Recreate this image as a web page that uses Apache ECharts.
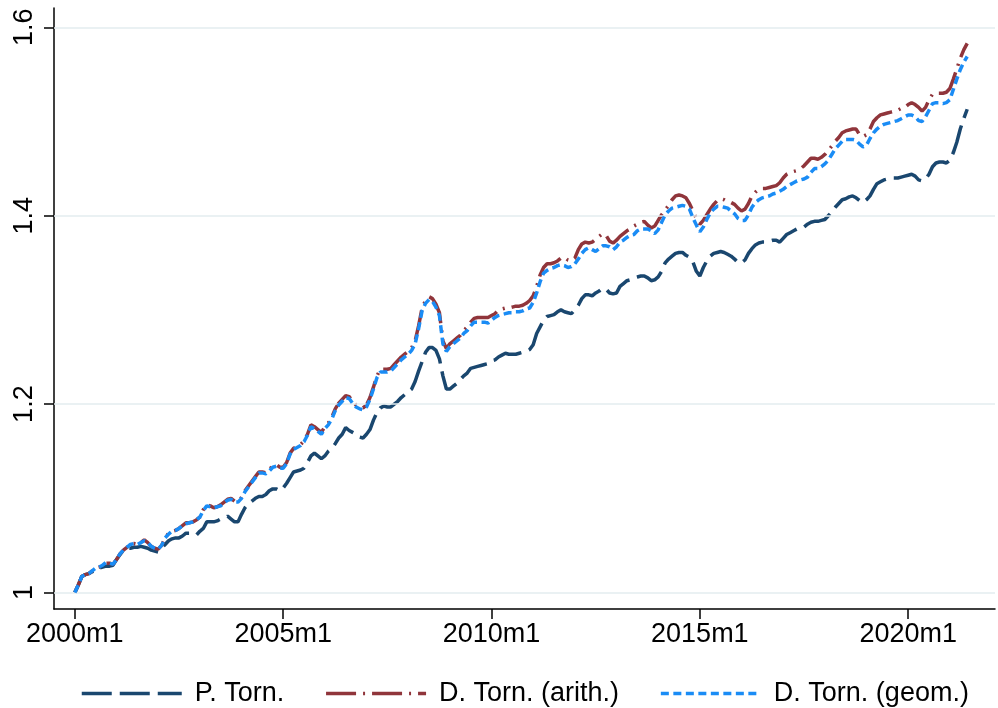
<!DOCTYPE html>
<html>
<head>
<meta charset="utf-8">
<script src="https://cdn.jsdelivr.net/npm/echarts@6/dist/echarts.min.js"></script>
<style>
html,body{margin:0;padding:0;background:#fff;}
#chart{width:998px;height:708px;}
</style>
</head>
<body>
<div id="chart"></div>
<script>
// Monthly data, 2000m1 .. 2021m6 (index 0 = 2000m1)
const xTickMonths = [0, 60, 120, 180, 240];
const xTickLabels = ['2000m1', '2005m1', '2010m1', '2015m1', '2020m1'];
const yTicks = [1, 1.2, 1.4, 1.6];
const yTickLabels = ['1', '1.2', '1.4', '1.6'];
const seriesNames = ['P. Torn.', 'D. Torn. (arith.)', 'D. Torn. (geom.)'];

const pTorn = [
1.000,1.008,1.017,1.019,1.020,1.022,1.025,1.026,1.027,1.028,
1.028,1.029,1.035,1.040,1.045,1.047,1.047,1.048,1.048,1.049,
1.048,1.047,1.045,1.044,1.043,1.047,1.051,1.055,1.057,1.058,
1.058,1.060,1.063,1.063,1.062,1.061,1.065,1.068,1.075,1.075,
1.075,1.076,1.078,1.079,1.081,1.078,1.075,1.075,1.083,1.090,
1.094,1.097,1.100,1.102,1.102,1.104,1.108,1.110,1.110,1.108,
1.111,1.116,1.122,1.128,1.129,1.130,1.132,1.138,1.145,1.148,
1.145,1.142,1.145,1.150,1.153,1.158,1.164,1.168,1.175,1.172,
1.170,1.168,1.165,1.164,1.168,1.173,1.183,1.191,1.196,1.198,
1.197,1.197,1.200,1.203,1.207,1.210,1.213,1.216,1.224,1.235,
1.245,1.255,1.260,1.260,1.257,1.248,1.230,1.216,1.216,1.219,
1.222,1.226,1.230,1.233,1.238,1.239,1.240,1.241,1.242,1.243,
1.246,1.247,1.250,1.252,1.254,1.253,1.253,1.253,1.254,1.255,
1.256,1.258,1.263,1.275,1.282,1.289,1.293,1.294,1.295,1.298,
1.300,1.298,1.297,1.296,1.300,1.305,1.312,1.316,1.316,1.315,
1.318,1.320,1.323,1.322,1.318,1.317,1.318,1.325,1.328,1.331,
1.332,1.334,1.335,1.336,1.336,1.334,1.331,1.332,1.335,1.341,
1.350,1.354,1.357,1.360,1.361,1.361,1.358,1.356,1.351,1.341,
1.336,1.345,1.352,1.357,1.360,1.361,1.362,1.361,1.359,1.357,
1.354,1.350,1.350,1.353,1.360,1.365,1.369,1.371,1.372,1.372,
1.373,1.374,1.374,1.372,1.376,1.380,1.382,1.384,1.386,1.387,
1.388,1.391,1.393,1.394,1.394,1.395,1.396,1.400,1.404,1.409,
1.413,1.417,1.418,1.420,1.421,1.419,1.416,1.414,1.417,1.421,
1.428,1.434,1.436,1.438,1.439,1.440,1.440,1.440,1.441,1.442,
1.443,1.444,1.442,1.438,1.437,1.439,1.444,1.452,1.456,1.457,
1.457,1.456,1.459,1.467,1.478,1.492,1.503,1.513
];

const dTornArith = [
1.000,1.008,1.017,1.019,1.020,1.023,1.026,1.027,1.028,1.031,
1.031,1.030,1.035,1.041,1.045,1.048,1.052,1.052,1.051,1.053,
1.056,1.053,1.049,1.047,1.046,1.050,1.058,1.063,1.065,1.066,
1.068,1.071,1.074,1.074,1.075,1.077,1.080,1.088,1.093,1.092,
1.090,1.091,1.093,1.096,1.099,1.100,1.097,1.097,1.101,1.108,
1.113,1.118,1.123,1.128,1.128,1.127,1.130,1.135,1.136,1.133,
1.133,1.138,1.148,1.153,1.155,1.157,1.161,1.168,1.178,1.176,
1.173,1.170,1.176,1.180,1.186,1.195,1.201,1.205,1.209,1.208,
1.203,1.199,1.197,1.196,1.199,1.207,1.218,1.230,1.237,1.237,
1.237,1.238,1.242,1.246,1.250,1.253,1.256,1.260,1.267,1.283,
1.302,1.310,1.314,1.312,1.306,1.297,1.267,1.259,1.264,1.267,
1.270,1.273,1.278,1.282,1.287,1.291,1.292,1.292,1.292,1.292,
1.294,1.296,1.300,1.301,1.302,1.302,1.303,1.304,1.304,1.305,
1.307,1.310,1.315,1.325,1.337,1.345,1.349,1.349,1.350,1.352,
1.355,1.356,1.353,1.352,1.355,1.364,1.370,1.372,1.371,1.372,
1.375,1.378,1.381,1.379,1.373,1.371,1.374,1.378,1.381,1.384,
1.386,1.389,1.391,1.393,1.394,1.390,1.387,1.389,1.395,1.401,
1.406,1.411,1.417,1.421,1.422,1.421,1.419,1.413,1.405,1.397,
1.391,1.395,1.401,1.407,1.412,1.416,1.418,1.417,1.415,1.414,
1.412,1.408,1.405,1.407,1.413,1.421,1.425,1.428,1.429,1.429,
1.430,1.431,1.432,1.435,1.440,1.444,1.446,1.447,1.448,1.450,
1.453,1.457,1.461,1.461,1.460,1.462,1.465,1.469,1.474,1.479,
1.483,1.488,1.490,1.491,1.492,1.492,1.486,1.484,1.486,1.492,
1.500,1.504,1.507,1.508,1.509,1.510,1.511,1.512,1.514,1.515,
1.518,1.520,1.518,1.515,1.511,1.515,1.523,1.529,1.530,1.530,
1.530,1.531,1.535,1.545,1.556,1.567,1.576,1.583
];

const dTornGeom = [
1.000,1.008,1.017,1.019,1.020,1.023,1.026,1.027,1.029,1.032,
1.031,1.030,1.035,1.041,1.045,1.048,1.051,1.052,1.051,1.053,
1.055,1.053,1.049,1.047,1.046,1.050,1.058,1.062,1.065,1.066,
1.068,1.071,1.073,1.074,1.075,1.077,1.080,1.087,1.092,1.091,
1.090,1.091,1.092,1.095,1.098,1.099,1.096,1.096,1.100,1.107,
1.112,1.117,1.122,1.127,1.127,1.126,1.129,1.133,1.134,1.132,
1.132,1.137,1.147,1.152,1.154,1.156,1.160,1.167,1.176,1.174,
1.171,1.168,1.174,1.178,1.184,1.193,1.199,1.203,1.207,1.206,
1.201,1.197,1.195,1.194,1.197,1.205,1.216,1.228,1.234,1.234,
1.234,1.235,1.239,1.243,1.247,1.250,1.253,1.257,1.264,1.280,
1.299,1.307,1.311,1.309,1.303,1.294,1.264,1.256,1.261,1.264,
1.267,1.270,1.275,1.278,1.283,1.287,1.287,1.287,1.287,1.286,
1.289,1.292,1.294,1.295,1.296,1.297,1.297,1.298,1.298,1.299,
1.301,1.302,1.308,1.318,1.330,1.339,1.342,1.344,1.345,1.347,
1.348,1.347,1.345,1.346,1.349,1.354,1.360,1.364,1.366,1.364,
1.362,1.365,1.368,1.368,1.367,1.364,1.367,1.372,1.374,1.377,
1.379,1.380,1.384,1.386,1.386,1.386,1.384,1.381,1.385,1.393,
1.401,1.405,1.408,1.409,1.410,1.411,1.410,1.407,1.398,1.390,
1.383,1.388,1.396,1.403,1.407,1.410,1.410,1.409,1.408,1.405,
1.402,1.397,1.395,1.395,1.401,1.409,1.414,1.417,1.419,1.420,
1.421,1.423,1.424,1.426,1.428,1.431,1.433,1.435,1.437,1.438,
1.439,1.441,1.446,1.450,1.450,1.452,1.455,1.459,1.465,1.471,
1.475,1.479,1.481,1.481,1.481,1.480,1.476,1.473,1.475,1.482,
1.488,1.492,1.495,1.497,1.498,1.499,1.500,1.501,1.503,1.505,
1.507,1.507,1.505,1.501,1.500,1.505,1.512,1.519,1.520,1.520,
1.519,1.520,1.523,1.534,1.545,1.555,1.563,1.569
];

function toPairs(arr) { return arr.map((v, i) => [i, v]); }

const chart = echarts.init(document.getElementById('chart'), null, {renderer: 'canvas'});
const FONT = '"Liberation Sans", Arial, Helvetica, sans-serif';
const colors = ['#1a476f', '#90353b', '#1a8cf5'];
const dashes = [[30, 8], [30, 7, 2, 7], [8, 4.5]];
const FS = 27;

const option = {
  animation: false,
  backgroundColor: '#ffffff',
  textStyle: {fontFamily: FONT},
  grid: {left: 54, right: 3, top: 8, bottom: 99, containLabel: false},
  legend: {
    data: seriesNames,
    left: 75,
    top: 675,
    itemWidth: 100,
    itemHeight: 14,
    itemGap: 40,
    itemStyle: {opacity: 0, borderWidth: 0},
    lineStyle: {width: 3.5},
    textStyle: {fontSize: FS, color: '#000', fontFamily: FONT, padding: [0, 0, 0, 8]}
  },
  xAxis: {
    type: 'value',
    min: -6,
    max: 265,
    axisLine: {show: true, onZero: false, lineStyle: {color: '#000', width: 1.5}},
    axisTick: {show: true, customValues: xTickMonths, length: 10, lineStyle: {color: '#000', width: 1.5}},
    axisLabel: {
      show: true, customValues: xTickMonths, fontSize: FS, color: '#000', fontFamily: FONT, margin: 12,
      formatter: v => xTickLabels[xTickMonths.indexOf(Math.round(v))] || ''
    },
    splitLine: {show: false}
  },
  yAxis: {
    type: 'value',
    min: 0.9825,
    max: 1.6205,
    axisLine: {show: true, onZero: false, lineStyle: {color: '#000', width: 1.5}},
    axisTick: {show: true, customValues: yTicks, length: 10, lineStyle: {color: '#000', width: 1.5}},
    axisLabel: {
      show: true, customValues: yTicks, fontSize: FS, color: '#000', fontFamily: FONT, rotate: 90, margin: 16,
      formatter: v => {
        let best = 0, bd = 1e9;
        yTicks.forEach((t, i) => { const d = Math.abs(t - v); if (d < bd) { bd = d; best = i; } });
        return yTickLabels[best];
      }
    },
    splitLine: {show: false}
  },
  series: [
    {
      name: '__grid',
      type: 'line',
      data: [],
      z: 1,
      silent: true,
      markLine: {
        silent: true,
        symbol: 'none',
        label: {show: false},
        lineStyle: {color: '#e3ecef', width: 1.5, type: 'solid'},
        data: yTicks.map(t => ({yAxis: t}))
      }
    },
    {
      name: seriesNames[0], type: 'line', data: toPairs(pTorn), symbol: 'none', showSymbol: false, z: 3,
      lineStyle: {color: colors[0], width: 3.5, type: dashes[0]}, itemStyle: {color: colors[0]}
    },
    {
      name: seriesNames[1], type: 'line', data: toPairs(dTornArith), symbol: 'none', showSymbol: false, z: 4,
      lineStyle: {color: colors[1], width: 3.5, type: dashes[1]}, itemStyle: {color: colors[1]}
    },
    {
      name: seriesNames[2], type: 'line', data: toPairs(dTornGeom), symbol: 'none', showSymbol: false, z: 5,
      lineStyle: {color: colors[2], width: 3.5, type: dashes[2]}, itemStyle: {color: colors[2]}
    }
  ]
};
chart.setOption(option);
</script>
</body>
</html>
